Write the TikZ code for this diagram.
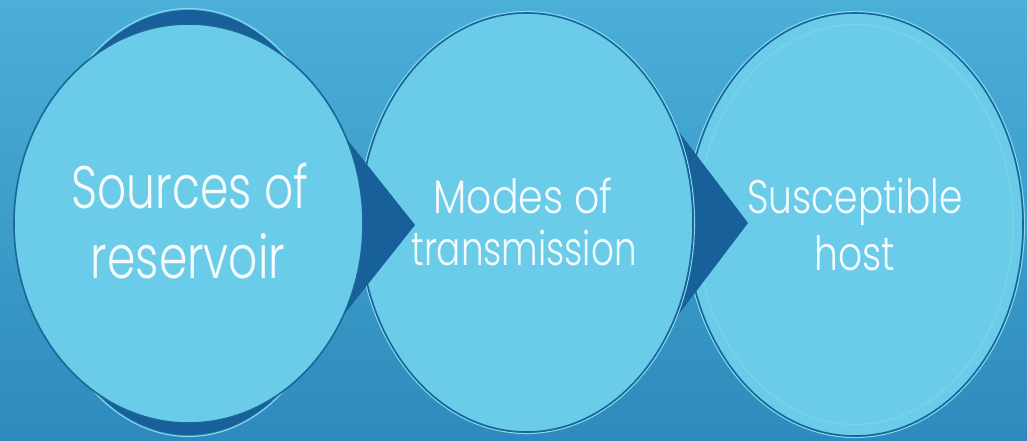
\documentclass[tikz,border=0pt]{standalone}
\usepackage{fontspec}
\newfontfamily\labelfont[FakeStretch=0.76, UprightFont={* Light}]{Poppins}
\newfontfamily\labelfontw[FakeStretch=0.80, UprightFont={* Light}]{Poppins}
\newfontfamily\labelfontx[FakeStretch=0.84, UprightFont={* Light}]{Poppins}
\usetikzlibrary{shapes.geometric}

\definecolor{bgtop}{HTML}{4BAFD8}
\definecolor{bgbot}{HTML}{2E8ABC}
\definecolor{discfill}{HTML}{6BCCE9}
\definecolor{rimdark}{HTML}{1B6698}
\definecolor{chevron}{HTML}{18609A}
\definecolor{rimlight}{HTML}{86D7F0}
\definecolor{labelwhite}{HTML}{F5FCFE}

\begin{document}
\begin{tikzpicture}[x=1pt,y=-1pt,
  disc/.style={fill=discfill, draw=rimdark, line width=1.6pt},
  arrowhead/.style={fill=chevron},
  glow/.style={draw=rimlight, line width=1.1pt},
  innerring/.style={draw=rimlight, line width=1.4pt, opacity=0.55},
  lbl/.style={text=labelwhite, anchor=base, inner sep=0pt},
  big/.style={font=\labelfont\fontsize{60}{60}\selectfont},
  mid/.style={font=\labelfont\fontsize{47}{47}\selectfont},
  midw/.style={font=\labelfontw\fontsize{47}{47}\selectfont},
  midx/.style={font=\labelfontx\fontsize{47}{47}\selectfont},
]
\path[use as bounding box] (0,0) rectangle (1027,441);
\shade[top color=bgtop, bottom color=bgbot] (0,0) rectangle (1027,441);

\coordinate (c1) at (188.5,223.5);
\coordinate (c1back) at (188.5,222.5);
\coordinate (c2) at (526.5,222.5);
\coordinate (c3) at (855,224.5);

% third stage
\draw[glow] (c3) ellipse [x radius=169.5, y radius=213];
\path[disc] (c3) ellipse [x radius=168, y radius=211.5];
\draw[innerring] (c3) ellipse [x radius=158, y radius=200];
\node[lbl, midw] (t3a) at (855,213) {Susceptible};
\node[lbl, midw] (t3b) at (855,270) {host};

% arrow from the second stage
\coordinate (tip2) at (748,223);
\fill[arrowhead] (660,107) -- (tip2) -- (660,339) -- cycle;

% second stage
\draw[glow] (c2) ellipse [x radius=168, y radius=211];
\path[disc] (c2) ellipse [x radius=166.5, y radius=209.5];
\node[lbl, midx] (t2a) at (523,213) {Modes of};
\node[lbl, mid] (t2b) at (524,265) {transmission};

% arrow and backing of the first stage
\coordinate (tip1) at (415,225);
\draw[glow] (c1back) ellipse [x radius=154.5, y radius=214];
\fill[arrowhead] (c1back) ellipse [x radius=153, y radius=212.5];
\fill[arrowhead] (330,118) -- (tip1) -- (330,332) -- cycle;

% first stage
\path[disc] (c1) ellipse [x radius=174.5, y radius=199.5];
\node[lbl, big] (t1a) at (190,208) {Sources of};
\node[lbl, big] (t1b) at (188,278) {reservoir};
\end{tikzpicture}
\end{document}
